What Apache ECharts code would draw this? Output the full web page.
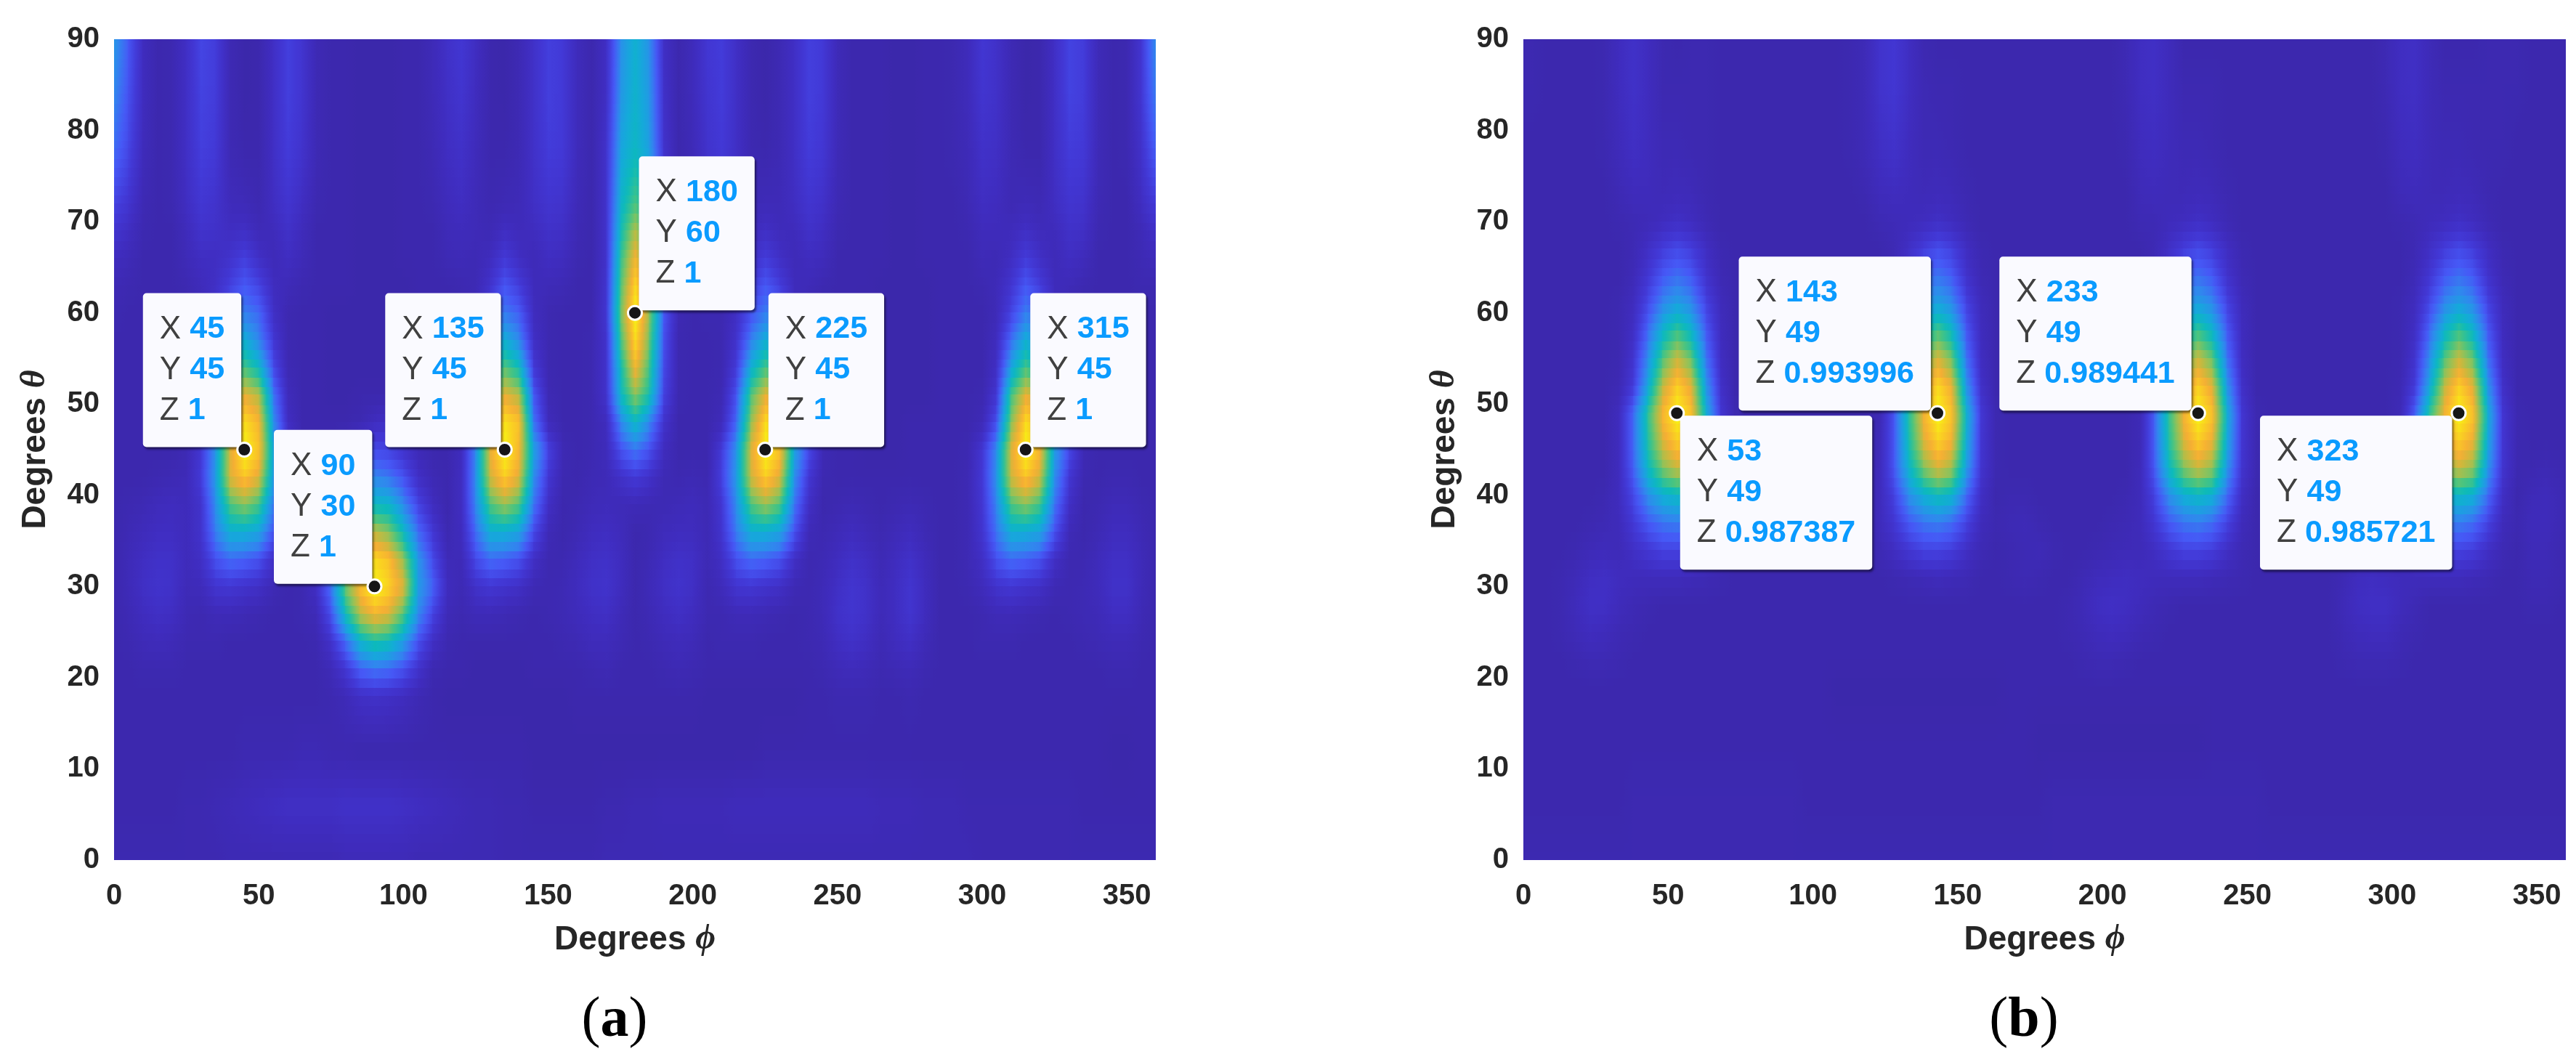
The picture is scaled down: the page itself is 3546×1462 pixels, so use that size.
<!DOCTYPE html>
<html><head><meta charset="utf-8">
<script src="https://cdn.jsdelivr.net/npm/echarts@6/dist/echarts.min.js"></script>
<style>html,body{margin:0;padding:0;background:#fff}#c{width:3546px;height:1462px}</style></head>
<body><div id="c"></div>
<script>
const xTicksMax = 360, yTicksMax = 90;
const phiA = [0,5,10,15,20,25,30,35,40,45,50,55,60,65,70,75,80,85,90,95,100,105,110,115,120,125,130,135,140,145,150,155,160,165,170,175,180,185,190,195,200,205,210,215,220,225,230,235,240,245,250,255,260,265,270,275,280,285,290,295,300,305,310,315,320,325,330,335,340,345,350,355,360];
const thetaA = [90,84,78,72,69,66,63,60,57,54,51,48,45,42,39,36,33,30,27,24,21,18,12,6,0];
const zA = [
[38,24,8,3,4,10,19,16,5,2,3,10,17,13,5,3,3,2,2,2,3,3,6,11,14,9,3,2,5,11,17,15,7,3,10,36,47,36,10,3,7,14,16,10,4,2,5,10,17,15,6,3,3,3,2,2,3,3,4,7,14,11,5,2,3,10,18,16,6,3,4,14,36],
[34,22,8,3,4,10,18,16,5,2,3,10,17,13,5,3,3,2,2,2,3,3,6,10,13,8,3,2,5,11,17,15,7,3,10,38,48,38,11,3,7,13,16,10,4,2,5,10,17,15,6,3,3,3,2,2,3,3,4,7,13,11,5,2,3,10,18,16,6,3,4,14,32],
[28,19,7,3,4,10,17,15,5,3,3,10,16,12,5,3,3,2,2,2,3,3,5,9,11,7,3,3,5,11,16,15,7,3,12,42,50,40,12,3,6,12,15,10,4,3,5,10,16,14,6,3,3,3,2,2,3,3,4,6,11,10,5,3,3,10,16,15,6,3,4,12,26],
[18,13,5,3,4,9,14,12,7,6,4,9,13,9,4,3,3,2,2,2,3,3,4,7,9,6,4,5,6,10,13,12,6,3,12,48,62,48,16,3,5,10,12,9,5,6,6,9,13,11,5,3,3,3,2,2,3,3,3,5,9,8,5,6,5,9,13,12,5,3,3,9,16],
[13,9,4,3,3,7,12,11,9,10,6,7,11,7,3,3,3,2,2,2,3,3,3,6,7,6,5,9,7,8,11,10,5,3,12,52,75,52,18,3,4,8,10,8,7,10,7,7,11,9,4,3,3,3,2,2,3,3,3,4,7,7,7,10,7,7,11,10,4,3,3,6,11],
[8,6,3,3,3,6,9,9,12,17,10,6,9,6,3,3,3,2,2,2,3,3,3,5,6,5,8,15,9,6,9,8,4,3,12,58,85,60,20,3,3,6,8,7,10,16,10,6,8,7,3,3,3,3,2,2,3,3,3,3,6,5,9,16,10,6,9,7,3,3,3,5,7],
[5,4,3,3,3,4,7,10,17,24,18,8,6,4,3,3,3,2,2,2,2,3,3,3,4,5,12,23,16,7,6,5,3,3,13,62,94,66,22,4,3,4,6,9,15,24,16,7,6,4,3,3,3,2,2,2,2,3,3,3,4,6,13,24,16,7,6,4,3,3,3,4,4],
[4,3,3,3,3,4,6,12,24,32,27,10,4,3,3,2,2,2,2,2,2,3,3,3,4,6,17,31,25,8,4,3,3,3,14,66,100,70,24,5,3,4,4,10,22,32,26,8,4,3,3,3,2,2,2,2,2,3,3,3,3,6,18,32,25,8,4,3,3,3,3,3,3],
[3,3,3,3,3,3,6,13,30,46,33,14,4,3,3,2,2,2,2,2,3,3,3,3,3,6,24,46,34,10,4,3,3,4,12,60,95,66,22,4,3,3,4,12,32,46,33,11,4,3,3,2,2,2,2,2,2,3,3,3,3,8,28,46,33,11,4,3,3,3,3,3,3],
[3,3,3,3,3,3,7,17,44,62,50,20,5,3,3,2,2,2,2,2,3,3,3,3,3,8,38,64,52,15,4,3,3,4,12,52,85,60,20,4,3,3,4,16,46,62,48,14,4,3,2,2,2,2,2,2,2,3,3,3,3,10,42,62,48,15,4,3,3,3,3,3,3],
[3,3,3,3,3,4,8,23,60,82,74,30,7,3,3,2,2,3,3,3,3,3,3,3,3,11,54,82,74,24,5,3,3,4,12,50,70,54,18,4,3,3,5,23,62,82,72,24,5,3,2,2,2,2,2,2,2,3,3,3,4,14,60,82,74,24,5,3,3,3,3,3,3],
[3,3,3,3,3,4,9,27,68,95,85,36,9,3,3,3,3,4,8,10,6,3,3,3,3,12,65,96,88,30,7,3,3,4,8,34,50,34,12,3,3,3,7,28,70,95,85,32,9,3,2,2,2,2,2,3,3,3,3,3,6,22,68,95,85,32,10,3,3,3,3,3,3],
[3,3,3,3,3,5,14,38,80,100,88,42,14,4,3,3,8,16,20,18,12,6,3,3,8,35,82,100,85,42,18,5,3,4,7,22,30,22,8,3,3,3,16,38,80,100,88,42,20,5,3,3,2,2,2,3,3,3,3,4,14,36,80,100,85,40,20,5,3,3,3,3,3],
[3,3,3,4,5,6,16,40,80,90,80,38,12,3,3,8,16,28,34,30,22,10,5,3,9,36,78,92,80,36,14,4,3,5,6,11,15,11,5,4,5,4,18,40,78,92,80,36,14,4,3,3,3,3,3,3,3,3,3,5,15,38,78,90,78,36,14,4,3,4,4,3,3],
[3,4,5,7,8,7,12,36,62,70,60,30,8,3,3,12,25,42,50,48,34,18,8,3,9,34,62,72,62,30,10,3,4,6,7,6,6,5,5,6,7,5,14,36,62,72,62,30,10,3,4,5,4,3,4,5,4,3,3,5,14,34,62,70,60,30,10,3,4,6,6,4,3],
[3,5,7,9,9,7,12,32,46,46,42,22,6,3,4,18,40,65,76,68,50,28,14,4,8,28,46,46,42,20,6,3,5,8,9,7,3,4,7,8,8,5,13,32,46,46,42,22,6,4,6,8,6,4,6,8,5,3,3,5,13,30,46,45,42,22,6,3,5,8,8,5,3],
[3,6,9,11,11,7,10,22,28,26,22,10,4,3,8,30,60,85,94,88,70,38,20,6,6,20,28,26,22,10,4,4,7,10,11,8,3,5,9,11,10,5,10,22,28,26,22,10,4,5,8,11,9,5,8,11,7,3,3,5,10,22,28,26,22,10,4,4,7,10,10,6,3],
[3,6,10,12,11,6,7,13,14,12,10,5,3,4,10,30,66,88,100,92,80,40,26,8,5,11,14,12,10,5,4,5,8,11,12,8,3,6,10,12,10,4,7,13,14,12,10,5,4,6,10,13,11,6,9,13,8,3,3,4,7,12,14,12,10,5,4,5,7,11,11,6,3],
[3,5,8,10,9,5,4,6,6,5,4,3,3,4,6,22,52,75,85,80,62,35,18,6,4,6,6,5,4,3,4,5,7,9,10,6,3,5,8,10,8,4,4,6,6,5,4,3,4,6,11,13,11,6,9,13,8,3,3,3,4,6,6,5,4,3,4,5,6,9,9,5,3],
[3,4,6,7,6,4,4,4,3,3,3,3,3,3,4,12,28,48,56,52,40,22,10,4,3,3,3,3,3,3,3,4,5,7,7,5,3,4,6,7,6,3,4,4,4,3,3,3,4,5,9,11,9,5,8,10,6,3,3,3,4,4,4,3,3,3,3,4,5,6,6,4,3],
[3,3,4,4,4,3,3,3,3,3,3,3,3,3,3,6,14,26,30,28,22,12,4,3,3,2,2,2,2,3,3,3,3,4,5,3,3,3,4,5,4,3,3,3,3,3,3,3,3,4,6,7,6,4,5,6,4,3,3,3,3,3,3,3,3,3,3,3,3,4,4,3,3],
[3,3,3,3,3,3,3,3,3,3,3,3,3,3,3,4,6,10,11,10,8,5,3,2,2,2,2,2,2,2,2,2,3,3,3,3,3,3,3,3,3,2,2,2,2,2,2,2,3,3,4,4,4,3,3,4,3,3,3,3,3,3,3,3,3,3,3,3,3,3,3,3,3],
[3,3,3,3,3,3,3,3,3,4,4,4,4,5,5,4,4,3,3,3,3,3,3,3,3,3,3,3,3,2,2,2,2,2,2,2,2,2,2,2,2,2,2,2,2,3,3,3,3,3,3,3,3,3,3,3,3,3,3,3,3,3,3,3,3,3,3,3,3,2,2,3,3],
[3,3,3,3,3,4,4,5,6,7,8,9,10,10,10,10,11,11,11,11,10,9,8,7,6,5,5,4,4,3,3,3,3,3,4,4,5,5,6,6,6,6,6,7,7,7,7,7,7,7,7,7,7,6,6,6,5,5,5,4,4,4,4,4,4,4,4,3,3,3,3,3,3],
[4,4,4,4,4,4,4,4,5,5,5,5,5,5,5,5,6,6,6,6,6,5,5,5,5,5,5,4,4,4,4,4,4,4,5,5,5,5,5,5,5,5,5,5,5,5,5,5,5,5,5,5,5,5,5,5,5,5,5,5,4,4,4,4,4,4,4,4,4,4,4,4,4]
];
const phiB = [0,3,8,13,18,23,28,33,38,43,48,53,58,63,68,73,78,83,88,93,98,103,108,113,118,123,128,133,138,143,148,153,158,163,168,173,178,183,188,193,198,203,208,213,218,223,228,233,238,243,248,253,258,263,268,273,278,283,288,293,298,303,308,313,318,323,328,333,338,343,348,353,358,360];
const thetaB = [90,85,79,73,70,67,64,61,58,55,52,49,46,43,40,37,34,31,28,25,22,19,13,7,0];
const zB = [
[4,4,3,3,3,3,4,  8,11,8,4,3,4,4,3,3,  3,3,3,3,3,3,3,4,6,  12,14,9,4,3,3,3,3,3,  3,3,3,3,3,3,3,3,5,  9,10,7,3,3,3,3,3,3,  3,3,3,3,3,3,3,3,5,  9,10,6,3,3,3,4,4,4,  3,3,3,3],
[4,4,3,3,3,3,4,  8,11,8,4,4,4,4,3,3,  3,3,3,3,3,3,3,4,6,  12,14,9,5,4,4,3,3,3,  3,3,3,3,3,3,3,3,5,  9,10,7,4,4,4,3,3,3,  3,3,3,3,3,3,3,3,5,  9,10,6,4,4,4,4,4,4,  3,3,3,3],
[3,3,3,3,3,3,4,  7,10,8,5,5,4,4,3,3,  3,3,3,3,3,3,3,4,6,  10,12,8,5,5,4,3,3,3,  3,3,3,3,3,3,3,3,4,  8,9,7,5,5,4,3,3,3,  3,3,3,3,3,3,3,3,4,  8,9,6,5,5,4,4,4,3,  3,3,3,3],
[3,3,3,3,3,3,3,  5,7,7,6,7,6,4,3,3,  3,3,3,3,3,3,3,3,4,  7,8,7,6,7,6,4,3,3,  3,3,3,3,3,3,3,3,3,  6,7,6,6,7,6,4,3,3,  3,3,3,3,3,3,3,3,3,  6,7,6,6,7,6,4,3,3,  3,3,3,3],
[3,3,3,3,3,3,3,  4,5,6,8,10,8,5,3,3,  3,3,3,3,3,3,3,3,3,  5,6,7,8,10,8,5,3,3,  3,3,3,3,3,3,3,3,3,  5,5,7,8,10,8,5,3,3,  3,3,3,3,3,3,3,3,3,  4,5,7,8,10,8,5,3,3,  3,3,3,3],
[3,3,3,3,3,3,3,  3,5,10,16,20,16,9,4,3,  3,3,3,3,3,3,3,3,3,  3,5,10,16,21,17,9,4,3,  3,3,3,3,3,3,3,3,3,  3,5,10,16,20,16,9,4,3,  3,3,3,3,3,3,3,3,3,  3,5,10,16,20,16,9,4,3,  3,3,3,3],
[3,3,3,3,3,3,3,  3,6,14,24,29,24,12,5,3,  3,3,3,3,3,3,3,3,3,  3,6,14,25,30,25,12,5,3,  3,3,3,3,3,3,3,3,3,  3,6,14,24,29,24,12,5,3,  3,3,3,3,3,3,3,3,3,  3,6,14,24,29,24,12,5,3,  3,3,3,3],
[3,3,3,3,3,3,3,  4,8,20,34,41,34,18,7,3,  3,3,3,3,3,3,3,3,3,  4,8,20,35,42,35,18,7,3,  3,3,3,3,3,3,3,3,3,  4,8,20,34,41,34,18,7,3,  3,3,3,3,3,3,3,3,3,  4,8,20,34,41,34,18,7,3,  3,3,3,3],
[3,3,3,3,3,3,3,  4,10,28,48,60,48,24,8,3,  3,3,3,3,3,3,3,3,3,  4,10,28,50,62,50,24,8,3,  3,3,3,3,3,3,3,3,3,  4,10,28,48,60,48,24,8,3,  3,3,3,3,3,3,3,3,3,  4,10,28,48,60,48,24,8,3,  3,3,3,3],
[3,3,3,3,3,3,3,  4,13,36,62,78,64,30,9,3,  3,3,3,3,3,3,3,3,3,  4,13,36,64,80,66,30,9,3,  3,3,3,3,3,3,3,3,3,  4,13,36,62,78,64,30,9,3,  3,3,3,3,3,3,3,3,3,  4,13,36,62,78,64,30,9,3,  3,3,3,3],
[3,3,3,3,3,3,3,  5,16,44,76,92,80,38,11,3,  3,3,3,3,3,3,3,3,3,  5,16,44,78,94,82,38,11,3,  3,3,3,3,3,3,3,3,3,  5,16,44,76,92,80,38,11,3,  3,3,3,3,3,3,3,3,3,  5,16,44,76,92,80,38,11,3,  3,3,3,3],
[3,3,3,3,3,3,3,  8,28,58,86,100,88,46,14,4,  3,3,3,3,3,3,3,3,3,  5,24,56,84,100,88,48,15,4,  3,3,3,3,3,3,3,3,3,  6,26,58,84,100,88,46,14,4,  3,3,3,3,3,3,3,3,3,  6,26,58,84,100,88,46,14,4,  3,3,3,3],
[3,3,3,3,3,3,3,  8,28,56,80,92,82,44,14,4,  3,3,3,3,3,3,3,3,3,  6,24,54,80,93,84,46,14,4,  3,3,3,3,3,3,3,3,3,  6,26,56,80,92,82,44,14,4,  3,3,3,3,3,3,3,3,3,  6,26,56,80,92,82,44,14,4,  3,3,3,3],
[3,3,3,3,3,3,3,  8,26,50,68,78,70,38,13,4,  3,3,3,3,3,3,3,3,3,  7,24,48,68,80,72,40,13,4,  3,3,3,3,3,3,3,3,3,  7,24,50,68,78,70,38,13,4,  3,3,3,3,3,3,3,3,3,  7,24,50,68,78,70,38,13,4,  4,5,4,3],
[3,3,3,3,3,3,4,  8,20,36,46,50,46,28,10,3,  3,3,3,3,3,3,3,3,3,  7,18,36,46,52,48,28,10,3,  4,4,3,3,3,3,3,3,4,  7,18,36,46,50,46,28,10,3,  3,3,3,3,3,3,3,3,4,  7,18,36,46,50,46,28,10,3,  6,7,5,3],
[3,3,3,3,3,4,5,  7,15,24,30,32,28,18,7,3,  3,3,3,3,3,3,3,3,3,  7,14,24,30,32,28,18,7,4,  5,6,4,3,3,3,3,4,5,  7,14,24,30,32,28,18,7,3,  3,3,3,3,3,3,3,4,5,  7,14,24,30,32,28,18,7,4,  7,7,5,3],
[3,3,3,3,4,6,7,  6,10,14,18,18,16,10,5,3,  3,3,3,3,3,3,3,3,3,  5,9,14,18,18,16,10,5,3,  4,5,6,4,3,3,4,5,6,  6,9,14,18,18,16,10,5,3,  3,3,3,3,3,3,5,6,6,  6,9,14,18,18,16,10,5,3,  6,6,4,3],
[3,3,3,4,6,9,10,  8,7,7,7,7,6,5,4,3,  3,3,3,3,3,3,3,3,3,  3,4,5,6,7,6,5,3,3,  4,5,4,3,3,5,7,8,9,  8,7,7,7,7,6,5,4,3,  3,3,3,3,3,5,8,9,8,  7,7,7,7,7,6,5,3,3,  5,5,4,3],
[3,3,3,4,7,10,10,  7,5,4,3,3,3,3,3,3,  3,3,3,3,3,3,3,3,3,  3,3,3,3,3,3,3,3,3,  3,3,3,3,4,6,9,10,9,  7,5,4,3,3,3,3,3,3,  3,3,3,3,3,6,9,10,10,  7,5,3,3,3,3,3,3,3,  4,4,3,3],
[3,3,3,4,6,8,7,  5,4,3,3,3,3,3,3,3,  3,3,3,3,3,3,3,3,3,  3,3,3,3,3,3,3,3,3,  3,3,3,3,4,5,7,8,7,  5,4,3,3,3,3,3,3,3,  3,3,3,3,3,5,7,8,8,  5,4,3,3,3,3,3,3,3,  3,3,3,3],
[3,3,3,3,4,5,5,  4,3,3,3,3,3,3,3,3,  3,3,3,3,3,3,3,3,3,  3,3,3,3,3,3,3,3,3,  3,3,3,3,3,4,5,5,4,  3,3,3,3,3,3,3,3,3,  3,3,3,3,3,4,5,5,5,  4,3,3,3,3,3,3,3,3,  3,3,3,3],
[3,3,3,3,3,3,3,  3,3,3,3,3,3,3,3,3,  3,3,3,3,3,3,2,2,2,  2,2,2,2,2,2,2,2,2,  3,3,3,3,3,3,3,3,3,  3,3,3,3,3,3,3,3,3,  3,3,3,3,3,3,3,3,3,  3,3,3,3,3,3,3,3,3,  3,3,3,3],
[3,3,3,3,3,3,3,  3,3,3,3,3,3,3,3,3,  3,3,3,3,3,3,3,3,3,  3,3,3,3,3,3,3,3,3,  3,3,2,2,2,2,2,2,2,  2,2,2,2,2,3,3,3,3,  3,3,3,3,3,3,3,3,3,  3,3,3,3,3,3,3,3,3,  3,3,3,3],
[3,3,3,3,3,3,3,  3,4,4,4,4,4,4,4,4,  4,4,4,4,3,3,3,3,3,  3,3,3,3,3,3,3,3,3,  3,3,3,4,4,4,4,4,4,  4,4,4,4,4,4,4,4,4,  3,3,3,3,3,3,3,3,3,  3,3,3,3,3,3,3,3,3,  3,3,3,3],
[4,4,4,4,4,4,4,  4,4,4,4,4,4,4,4,4,  4,4,4,4,4,4,4,4,4,  4,4,4,4,4,4,4,4,4,  4,4,4,4,4,4,4,4,4,  4,4,4,4,4,4,4,4,4,  4,4,4,4,4,4,4,4,4,  4,4,4,4,4,4,4,4,4,  4,4,4,4]
];
const xLabelA = 'Degrees', xSym = 'ϕ', ySym = 'θ';
const cursorsA = [[45,45,'1',-139,-215],[90,30,'1',-138,-215],[135,45,'1',-164,-215],[180,60,'1',6,-215],[225,45,'1',5,-215],[315,45,'1',7,-215]];
const cursorsB = [[53,49,'0.987387',5,4],[143,49,'0.993996',-273,-215],[233,49,'0.989441',-273,-215],[323,49,'0.985721',-273,4]];
const captions = [['a',841],['b',2781]];
const cmapPos = [0,8,15,24,34,44,52,62,70,78,84,92,100];
const cmapCol = [[58,38,164],[63,44,190],[66,56,214],[70,88,246],[48,136,238],[20,170,218],[12,186,186],[72,196,128],[144,194,90],[204,184,60],[246,174,52],[250,208,34],[246,248,16]];

function zColor(v){
  let i=0; while(i<cmapPos.length-2 && v>cmapPos[i+1]) i++;
  const t=Math.max(0,Math.min(1,(v-cmapPos[i])/(cmapPos[i+1]-cmapPos[i])));
  const a=cmapCol[i],b=cmapCol[i+1];
  return 'rgb('+Math.round(a[0]+(b[0]-a[0])*t)+','+Math.round(a[1]+(b[1]-a[1])*t)+','+Math.round(a[2]+(b[2]-a[2])*t)+')';
}
function cellData(phi,theta,z){
  const out=[];
  for(let r=0;r<theta.length-1;r++) for(let c=0;c<phi.length-1;c++)
    out.push([phi[c],theta[r+1],phi[c+1],theta[r],z[r+1][c],z[r+1][c+1],z[r][c],z[r][c+1]]);
  return out;
}
function renderCell(params,api){
  const x0=api.value(0),y0=api.value(1),x1=api.value(2),y1=api.value(3);
  const a=api.value(4),b=api.value(5),c=api.value(6),d=api.value(7);
  const n=Math.max(1,Math.round(y1-y0)),kids=[];
  for(let k=0;k<n;k++){
    const t=(k+.5)/n;
    const zl=a+(c-a)*t, zr=b+(d-b)*t;
    const p0=api.coord([x0,y0+(y1-y0)*(k+1)/n]), p1=api.coord([x1,y0+(y1-y0)*k/n]);
    const px=Math.floor(p0[0]),py=Math.floor(p0[1]);
    const stops=[]; for(let s=0;s<=4;s++) stops.push({offset:s/4,color:zColor(zl+(zr-zl)*s/4)});
    kids.push({type:'rect',shape:{x:px,y:py,width:Math.ceil(p1[0])-px+1,height:Math.ceil(p1[1])-py+1},
      style:{fill:new echarts.graphic.LinearGradient(0,0,1,0,stops)},silent:true});
  }
  return {type:'group',children:kids};
}
const FONT='"Liberation Sans",Arial,sans-serif';
const grids=[{left:157,top:54,width:1434,height:1130},{left:2097,top:54,width:1435,height:1130}];
function axisPair(i){
  const labelStyle={fontFamily:FONT,fontWeight:'bold',fontSize:40,color:'#262626'};
  const nameStyle={fontFamily:FONT,fontWeight:'bold',fontSize:46,color:'#262626',
    rich:{s:{fontFamily:'"Liberation Serif",serif',fontStyle:'italic',fontSize:48,color:'#262626'}}};
  return {
    x:{type:'value',gridIndex:i,min:0,max:xTicksMax,interval:50,axisLine:{show:false},axisTick:{show:false},splitLine:{show:false},
      axisLabel:Object.assign({margin:30,showMaxLabel:false},labelStyle),name:xLabelA+' {s|'+xSym+'}',nameLocation:'middle',nameGap:86,nameTextStyle:nameStyle},
    y:{type:'value',gridIndex:i,min:0,max:yTicksMax,interval:10,axisLine:{show:false},axisTick:{show:false},splitLine:{show:false},
      axisLabel:Object.assign({margin:20},labelStyle),name:xLabelA+' {s|'+ySym+'}',nameLocation:'middle',nameGap:84,nameTextStyle:nameStyle}
  };
}
const a0=axisPair(0),a1=axisPair(1);
function fieldSeries(i,phi,theta,z){
  return {type:'custom',xAxisIndex:i,yAxisIndex:i,coordinateSystem:'cartesian2d',clip:true,silent:true,z:1,
    renderItem:renderCell,encode:{x:[0,2],y:[1,3]},data:cellData(phi,theta,z),animation:false,progressive:0};
}
function boxSeries(i,cur){
  return {type:'scatter',xAxisIndex:i,yAxisIndex:i,z:3,silent:true,symbolSize:1,itemStyle:{color:'transparent',opacity:1},animation:false,
    data:cur.map(p=>({value:[p[0],p[1]],label:{show:true,position:[p[3],p[4]],
      formatter:'{k|X\u00a0}{v|'+p[0]+'}\n{k|Y\u00a0}{v|'+p[1]+'}\n{k|Z\u00a0}{v|'+p[2]+'}',
      padding:[22,23,22,23],backgroundColor:'#FAFAFF',borderRadius:5,opacity:1,
      shadowColor:'rgba(0,0,0,.5)',shadowBlur:3,shadowOffsetX:2,shadowOffsetY:3,
      rich:{k:{fontFamily:FONT,fontSize:44,color:'#404040',lineHeight:56},
            v:{fontFamily:FONT,fontSize:43,fontWeight:'bold',color:'#0A9BFF',lineHeight:56}}}}))};
}
function dotSeries(i,cur){
  return {type:'scatter',xAxisIndex:i,yAxisIndex:i,z:5,silent:true,symbolSize:19,animation:false,
    itemStyle:{color:'#161616',opacity:1,borderColor:'#fff',borderWidth:3},data:cur.map(p=>[p[0],p[1]])};
}
const chart=echarts.init(document.getElementById('c'),null,{renderer:'canvas',devicePixelRatio:1});
chart.setOption({
  animation:false,backgroundColor:'#fff',grid:grids,tooltip:{show:false},
  xAxis:[a0.x,a1.x],yAxis:[a0.y,a1.y],
  title:captions.map(c=>({text:'({b|'+c[0]+'})',left:c[1],top:1362,textAlign:'center',
    textStyle:{fontFamily:'"Liberation Serif",serif',fontWeight:'normal',fontSize:78,color:'#000',
      rich:{b:{fontFamily:'"Liberation Serif",serif',fontWeight:'bold',fontSize:78,color:'#000'}}}})),
  series:[fieldSeries(0,phiA,thetaA,zA),fieldSeries(1,phiB,thetaB,zB),boxSeries(0,cursorsA),boxSeries(1,cursorsB),dotSeries(0,cursorsA),dotSeries(1,cursorsB)]
});
</script></body></html>
